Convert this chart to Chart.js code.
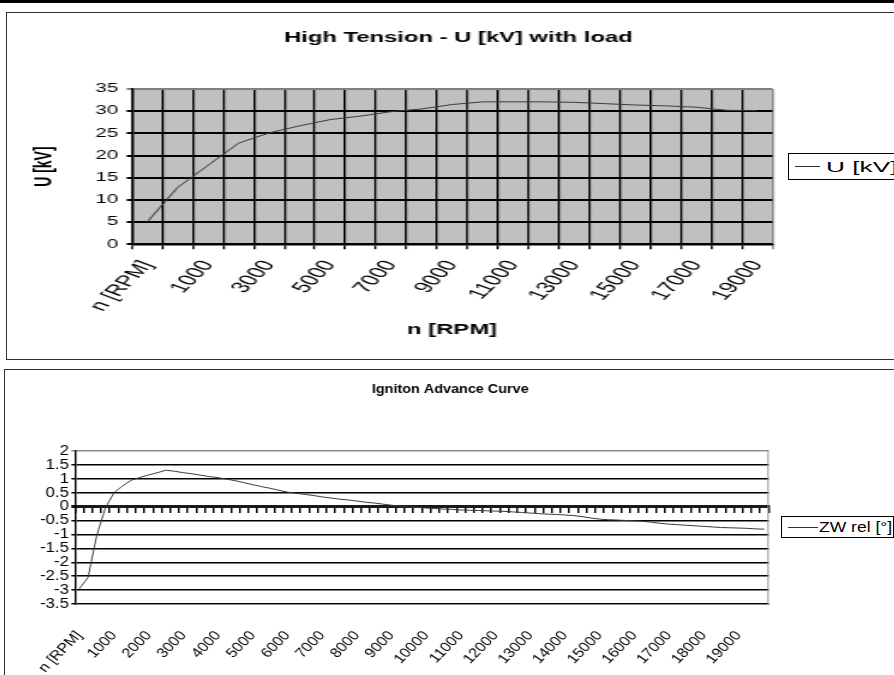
<!DOCTYPE html>
<html>
<head>
<meta charset="utf-8">
<script src="https://cdn.jsdelivr.net/npm/chart.js@4.4.0/dist/chart.umd.min.js"></script>
<style>
  html, body { margin: 0; padding: 0; background: #fff; }
  body { width: 894px; height: 675px; overflow: hidden; position: relative; font-family: 'Liberation Sans', Arial, sans-serif; }
  #rule { position: absolute; left: 0; top: 0; width: 894px; height: 3px; background: #000; }
  .frame { position: absolute; border: 1px solid #303030; background: #fff; overflow: hidden; }
  .stretch { position: absolute; left: 0; top: 0; transform-origin: 0 0; }
  .legend { position: absolute; border: 1px solid #000; background: #fff; white-space: nowrap; }
  .legend .swatch { position: absolute; height: 0; border-top: 1px solid #333; }
  .legend .label { position: absolute; top: 0; transform-origin: 0 50%; color: #000; }
</style>
</head>
<body>
<div id="rule"></div>

<div class="frame" style="left:6px;top:12px;width:900px;height:346px">
  <div class="stretch" style="width:531px;height:346px;transform:scaleX(1.7)">
    <canvas id="tensionChart"></canvas>
  </div>
  <div class="legend" style="left:781px;top:140px;width:150px;height:25px">
    <div class="swatch" style="left:6px;top:12px;width:25px"></div>
    <div class="label" style="left:37px;line-height:25px;font-size:15px;transform:scaleX(1.75)">U [kV]</div>
  </div>
</div>

<div class="frame" style="left:4px;top:369px;width:900px;height:320px">
  <div class="stretch" style="width:742px;height:320px;transform:scaleX(1.2)">
    <canvas id="advanceChart"></canvas>
  </div>
  <div class="legend" style="left:776px;top:146px;width:111px;height:20px">
    <div class="swatch" style="left:6px;top:10px;width:30px"></div>
    <div class="label" style="left:37px;line-height:20px;font-size:14px;transform:scaleX(1.25)">ZW rel [°]</div>
  </div>
</div>

<script>
'use strict';

// top chart: high tension with load
const rpmTension = ['n [RPM]', '500', '1000', '2000', '3000', '4000', '5000', '6000', '7000', '8000', '9000',
  '10000', '11000', '12000', '13000', '14000', '15000', '16000', '17000', '18000', '19000'];
const voltageKv = [5, 12.8, 17.8, 22.8, 25.1, 26.7, 28.1, 28.9, 29.9, 30.5, 31.5,
  32.1, 32.1, 32.1, 32.0, 31.7, 31.4, 31.2, 30.9, 30.2, 30.1];

// bottom chart: ignition advance
const rpmAdvance = [
  'n [RPM]', '250', '500', '750', '1000', '1250', '1500', '1750',
  '2000', '2250', '2500', '2750', '3000', '3250', '3500', '3750',
  '4000', '4250', '4500', '4750', '5000', '5250', '5500', '5750',
  '6000', '6250', '6500', '6750', '7000', '7250', '7500', '7750',
  '8000', '8250', '8500', '8750', '9000', '9250', '9500', '9750',
  '10000', '10250', '10500', '10750', '11000', '11250', '11500', '11750',
  '12000', '12250', '12500', '12750', '13000', '13250', '13500', '13750',
  '14000', '14250', '14500', '14750', '15000', '15250', '15500', '15750',
  '16000', '16250', '16500', '16750', '17000', '17250', '17500', '17750',
  '18000', '18250', '18500', '18750', '19000', '19250', '19500', '19750'];
const advanceDeg = [
  -2.95, -2.55, -1.05, -0.05, 0.5, 0.75, 0.95, 1.05,
  1.14, 1.22, 1.31, 1.27, 1.22, 1.18, 1.13, 1.08,
  1.04, 0.99, 0.93, 0.86, 0.79, 0.72, 0.66, 0.59,
  0.52, 0.48, 0.44, 0.40, 0.35, 0.31, 0.27, 0.24,
  0.20, 0.16, 0.13, 0.09, 0.05, 0.02, -0.01, -0.03,
  -0.05, -0.07, -0.09, -0.10, -0.12, -0.13, -0.14, -0.15,
  -0.16, -0.17, -0.19, -0.21, -0.23, -0.25, -0.27, -0.28,
  -0.30, -0.32, -0.36, -0.41, -0.45, -0.47, -0.48, -0.50,
  -0.51, -0.53, -0.56, -0.60, -0.63, -0.65, -0.67, -0.69,
  -0.71, -0.73, -0.75, -0.76, -0.77, -0.78, -0.80, -0.81];

const fontFamily = "'Liberation Sans', Arial, sans-serif";
Chart.defaults.font.family = fontFamily;
Chart.defaults.color = '#000';

// grey plot background + grey right edge like the old excel look
const plotFrame = {
  id: 'plotFrame',
  beforeDraw(chart, args, opts) {
    if (!opts.fill) return;
    const a = chart.chartArea;
    const ctx = chart.ctx;
    ctx.save();
    ctx.fillStyle = opts.fill;
    ctx.fillRect(a.left, a.top, a.right - a.left, a.bottom - a.top);
    ctx.restore();
  },
  beforeDatasetsDraw(chart, args, opts) {
    if (!opts.edge) return;
    const a = chart.chartArea;
    const ctx = chart.ctx;
    ctx.save();
    ctx.strokeStyle = opts.edge;
    ctx.lineWidth = 1;
    ctx.beginPath();
    ctx.moveTo(a.right - 0.5, a.top);
    ctx.lineTo(a.right - 0.5, a.bottom);
    ctx.stroke();
    ctx.restore();
  }
};

// empty axis on the right, only there to keep the title centred like the original
function spacerAxis(w) {
  return {
    position: 'right',
    grid: { display: false },
    border: { display: false },
    ticks: { display: false },
    afterFit: s => { s.width = w; }
  };
}

new Chart(document.getElementById('tensionChart'), {
  type: 'line',
  data: {
    labels: rpmTension,
    datasets: [{
      label: 'U [kV]',
      data: voltageKv,
      borderColor: '#3a3a3a',
      borderWidth: 1,
      pointRadius: 0,
      tension: 0,
      fill: false
    }]
  },
  plugins: [plotFrame],
  options: {
    responsive: true,
    maintainAspectRatio: false,
    animation: false,
    layout: { padding: 0 },
    plugins: {
      legend: { display: false },
      tooltip: { enabled: false },
      title: {
        display: true,
        text: 'High Tension - U [kV] with load',
        color: '#000',
        font: { size: 14, weight: 'bold' },
        padding: { top: 16.6, bottom: 42.6 }
      },
      plotFrame: { fill: '#c0c0c0' }
    },
    scales: {
      x: {
        type: 'category',
        offset: true,
        grid: {
          offset: true,
          color: c => c.tick ? '#000' : '#808080',
          lineWidth: 1.2,
          tickLength: 5
        },
        border: { color: '#000', width: 1.5 },
        ticks: {
          autoSkip: false,
          minRotation: 58,
          maxRotation: 58,
          padding: 8,
          font: { size: 15.5 },
          callback: (v, i) => i % 2 === 0 ? rpmTension[i] : ''
        },
        title: {
          display: true,
          text: 'n [RPM]',
          font: { size: 14, weight: 'bold' },
          padding: { top: 0, bottom: 20.6 }
        },
        afterFit: s => { s.height = 114.7; }
      },
      y: {
        min: 0,
        max: 35,
        ticks: { stepSize: 5, padding: 5, font: { size: 12 } },
        grid: {
          color: c => (c.tick && c.tick.value === 35) ? '#808080' : '#000',
          lineWidth: 2,
          tickLength: 3
        },
        border: { color: '#000', width: 1.5 },
        title: {
          display: true,
          text: 'U [kV]',
          font: { size: 14, weight: 'bold' },
          padding: { top: 14, bottom: 0 }
        },
        afterFit: s => { s.width = 73.4; }
      },
      yR: spacerAxis(80.8)
    }
  }
});

new Chart(document.getElementById('advanceChart'), {
  type: 'line',
  data: {
    labels: rpmAdvance,
    datasets: [{
      label: 'ZW rel [°]',
      data: advanceDeg,
      borderColor: '#3a3a3a',
      borderWidth: 1,
      pointRadius: 0,
      tension: 0,
      fill: false
    }]
  },
  plugins: [plotFrame],
  options: {
    responsive: true,
    maintainAspectRatio: false,
    animation: false,
    layout: { padding: 0 },
    plugins: {
      legend: { display: false },
      tooltip: { enabled: false },
      title: {
        display: true,
        text: 'Igniton Advance Curve',
        color: '#000',
        font: { size: 12, weight: 'bold' },
        padding: { top: 12.8, bottom: 53.8 }
      },
      plotFrame: { edge: '#8c8c8c' }
    },
    scales: {
      x: {
        type: 'category',
        offset: true,
        grid: { display: false },
        border: { color: '#8c8c8c', width: 1 },
        ticks: {
          autoSkip: false,
          minRotation: 50,
          maxRotation: 50,
          padding: 16,
          font: { size: 13.5 },
          callback: (v, i) => i % 4 === 0 ? rpmAdvance[i] : ''
        },
        afterFit: s => { s.height = 86; }
      },
      // axis line through zero with its tick marks
      xz: {
        type: 'category',
        position: { y: 0 },
        offset: true,
        grid: {
          offset: true,
          drawOnChartArea: false,
          tickLength: 5,
          color: '#000',
          lineWidth: 1.5
        },
        border: { color: '#1a1a1a', width: 3 },
        ticks: { display: false }
      },
      y: {
        min: -3.5,
        max: 2,
        ticks: { stepSize: 0.5, autoSkip: false, padding: 2, font: { size: 14 }, callback: v => String(v) },
        grid: {
          color: c => (c.tick && c.tick.value === 2) ? '#8c8c8c' : '#000',
          lineWidth: c => (c.tick && c.tick.value === 0) ? 3 : 1.5,
          tickLength: 3
        },
        border: { color: '#000', width: 1.5 },
        afterFit: s => { s.width = 58.3; }
      },
      yR: spacerAxis(105.6)
    }
  }
});
</script>
</body>
</html>
